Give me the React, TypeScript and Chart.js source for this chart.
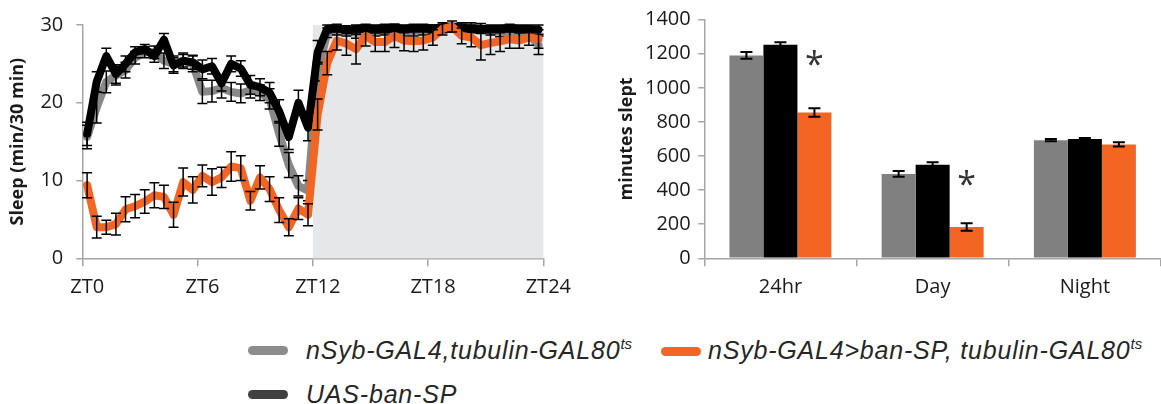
import React, { useEffect, useRef } from 'react';
import { Chart, registerables } from 'chart.js';
Chart.register(...registerables);

// ---------- Left chart data (sleep per 30-min bin, ZT0..ZT24) ----------
const ztTickLabels = ['ZT0', 'ZT6', 'ZT12', 'ZT18', 'ZT24'];
const nightStart = 12;
const nightEnd = 24;

const grayLine = [
  15.6, 19.4, 22.7, 23.5, 24.2, 25.8, 26.5, 26.5, 25.4, 25.0, 25.4, 25.0,
  21.4, 21.5, 21.9, 21.4, 21.2, 21.6, 21.3, 20.5, 16.0, 12.0, 9.3, 8.7,
  24.0, 29.0, 29.3, 29.2, 29.0, 29.1, 29.2, 29.3, 29.3, 29.2, 29.2, 29.3,
  29.4, 29.5, 29.6, 29.8, 29.8, 29.6, 29.3, 29.1, 29.0, 28.9, 28.8, 27.4,
];
const grayLineErr = [
  1.5, 2.0, 1.4, 1.2, 1.0, 0.8, 0.7, 0.8, 1.0, 1.0, 1.0, 1.0,
  1.5, 1.4, 1.3, 1.2, 1.2, 1.0, 1.0, 1.3, 1.6, 1.6, 1.3, 1.3,
  1.2, 0.6, 0.6, 0.6, 0.7, 0.6, 0.6, 0.6, 0.6, 0.6, 0.6, 0.6,
  0.6, 0.5, 0.5, 0.5, 0.5, 0.6, 0.6, 0.6, 0.7, 0.7, 0.8, 1.2,
];
const blackLine = [
  16.0, 22.7, 26.0, 23.7, 25.0, 26.5, 26.9, 26.0, 28.1, 24.8, 25.4, 25.2,
  24.3, 24.7, 22.5, 25.0, 24.4, 22.3, 22.0, 21.3, 18.9, 15.6, 20.0, 16.8,
  26.5, 29.5, 29.6, 29.4, 29.5, 29.6, 29.5, 29.6, 29.6, 29.5, 29.6, 29.6,
  29.5, 29.7, 29.8, 29.6, 29.5, 29.4, 29.5, 29.5, 29.6, 29.5, 29.5, 29.4,
];
const blackLineErr = [
  1.5, 1.3, 1.0, 1.2, 1.0, 0.7, 0.6, 0.8, 0.8, 1.0, 0.8, 0.9,
  1.2, 1.0, 1.0, 1.0, 1.0, 1.2, 1.1, 1.3, 1.5, 1.6, 1.6, 1.7,
  1.5, 0.5, 0.5, 0.5, 0.5, 0.5, 0.5, 0.5, 0.5, 0.5, 0.5, 0.5,
  0.5, 0.4, 0.4, 0.5, 0.5, 0.5, 0.5, 0.5, 0.5, 0.5, 0.5, 0.6,
];
const orangeLine = [
  9.4, 4.0, 4.0, 4.4, 6.3, 6.7, 7.3, 8.1, 7.9, 5.6, 9.8, 8.8,
  10.6, 9.8, 10.4, 11.8, 11.6, 7.4, 10.4, 8.9, 6.2, 4.0, 6.4, 5.6,
  18.5, 25.1, 28.0, 27.6, 26.9, 28.6, 27.8, 27.8, 28.6, 28.0, 27.9, 28.0,
  28.4, 29.5, 29.8, 28.6, 28.4, 27.4, 27.7, 27.9, 28.2, 28.0, 28.4, 28.2,
];
const orangeLineErr = [
  1.6, 1.4, 0.9, 1.4, 1.6, 1.5, 1.5, 1.6, 1.5, 1.6, 1.8, 1.7,
  1.4, 1.7, 1.3, 1.9, 1.6, 1.2, 1.5, 1.6, 1.6, 1.1, 1.4, 1.4,
  2.0, 1.5, 1.2, 1.5, 1.9, 1.3, 1.2, 1.2, 1.5, 1.3, 1.3, 1.2,
  1.0, 0.8, 0.7, 1.0, 1.2, 1.9, 1.5, 1.3, 1.2, 1.0, 1.0, 1.2,
];

// ---------- Right chart data (minutes slept) ----------
const barCategories = ['24hr', 'Day', 'Night'];
const grayBars = [1190, 495, 693];
const grayBarsErr = [20, 17, 6];
const blackBars = [1252, 549, 700];
const blackBarsErr = [15, 15, 5];
const orangeBars = [855, 184, 668];
const orangeBarsErr = [25, 22, 12];
const significant = [true, true, false];

const seriesNames = [
  'nSyb-GAL4,tubulin-GAL80',
  'UAS-ban-SP',
  'nSyb-GAL4>ban-SP, tubulin-GAL80',
];

const GRAY = '#888888';
const GRAY_BAR = '#808080';
const BLACK = '#000000';
const ORANGE = '#f26522';
const AXIS = '#a6a6a6';
const TEXT = '#1a1a1a';
const FONT = "'Open Sans', sans-serif";

const binX = (i: number) => 0.25 + 0.5 * i; // centre of each 30-min bin, in hours

const errorBarsPlugin = {
  id: 'errorBars',
  afterDatasetDraw(chart: any, args: any, opts: any) {
    const ds = chart.data.datasets[args.index];
    const errs: number[] | undefined = ds.errors;
    if (!errs) return;
    const meta = args.meta;
    const yScale = chart.scales[meta.yAxisID];
    const ctx = chart.ctx;
    ctx.save();
    ctx.strokeStyle = opts.color || '#000';
    ctx.lineWidth = opts.lineWidth || 1.5;
    const cap = opts.cap || 5;
    meta.data.forEach((el: any, i: number) => {
      const d = ds.data[i];
      const v = typeof d === 'number' ? d : d.y;
      const e = errs[i];
      const x = el.x;
      const yT = yScale.getPixelForValue(v + e);
      const yB = yScale.getPixelForValue(v - e);
      ctx.beginPath();
      ctx.moveTo(x, yT);
      ctx.lineTo(x, yB);
      ctx.moveTo(x - cap, yT);
      ctx.lineTo(x + cap, yT);
      ctx.moveTo(x - cap, yB);
      ctx.lineTo(x + cap, yB);
      ctx.stroke();
    });
    ctx.restore();
  },
};

const nightShadePlugin = {
  id: 'nightShade',
  beforeDatasetsDraw(chart: any) {
    const { ctx, chartArea, scales } = chart;
    const x0 = scales.x.getPixelForValue(nightStart);
    const x1 = scales.x.getPixelForValue(nightEnd);
    ctx.save();
    ctx.fillStyle = '#e6e7e8';
    ctx.fillRect(x0, chartArea.top, x1 - x0, chartArea.bottom - chartArea.top);
    ctx.restore();
  },
};

const asteriskPlugin = {
  id: 'asterisks',
  afterDatasetsDraw(chart: any) {
    const ctx = chart.ctx;
    const orangeMeta = chart.getDatasetMeta(2);
    const blackMeta = chart.getDatasetMeta(1);
    ctx.save();
    ctx.fillStyle = '#333333';
    ctx.font = `34px ${FONT}`;
    ctx.textAlign = 'center';
    ctx.textBaseline = 'alphabetic';
    significant.forEach((s, i) => {
      if (!s) return;
      const x = orangeMeta.data[i].x;
      const y = blackMeta.data[i].y + 31;
      ctx.fillText('*', x, y);
    });
    ctx.restore();
  },
};

function LeftChart() {
  const ref = useRef<HTMLCanvasElement>(null);
  useEffect(() => {
    if (!ref.current) return;
    const mk = (arr: number[]) => arr.map((y, i) => ({ x: binX(i), y }));
    const lineDs = (label: string, data: number[], errs: number[], color: string) => ({
      label,
      data: mk(data),
      errors: errs,
      borderColor: color,
      backgroundColor: color,
      borderWidth: 8,
      pointRadius: 0,
      tension: 0,
      borderJoinStyle: 'round',
      borderCapStyle: 'round',
      fill: false,
      clip: false,
    });
    const chart = new Chart(ref.current, {
      type: 'line',
      data: {
        datasets: [
          lineDs(seriesNames[2], orangeLine, orangeLineErr, ORANGE),
          lineDs(seriesNames[1], blackLine, blackLineErr, BLACK),
          lineDs(seriesNames[0], grayLine, grayLineErr, GRAY),
        ] as any,
      },
      options: {
        animation: false,
        responsive: true,
        maintainAspectRatio: false,
        devicePixelRatio: 1,
        layout: { padding: { top: 17.5, right: 28, bottom: 0, left: 0 } },
        plugins: {
          legend: { display: false },
          tooltip: { enabled: false },
          errorBars: { cap: 5, lineWidth: 1.5, color: '#000' },
        } as any,
        scales: {
          x: {
            type: 'linear',
            min: 0,
            max: 24,
            afterBuildTicks: (scale: any) => {
              scale.ticks = ztTickLabels.map((_, i) => ({ value: i * 6 }));
            },
            afterFit: (scale: any) => {
              scale.height = 51.7;
            },
            ticks: {
              callback: (_v: any, i: number) => ztTickLabels[i],
              font: { family: FONT, size: 20 },
              color: TEXT,
              padding: 9,
              labelOffset: 5,
              maxRotation: 0,
              autoSkip: false,
            },
            grid: { drawOnChartArea: false, color: AXIS, lineWidth: 1.5, tickLength: 8 },
            border: { color: AXIS, width: 1.5 },
          },
          y: {
            min: 0,
            max: 30,
            afterFit: (scale: any) => {
              scale.width = 82.3;
            },
            ticks: {
              stepSize: 10,
              font: { family: FONT, size: 20 },
              color: TEXT,
              padding: 13,
            },
            grid: { drawOnChartArea: false, color: AXIS, lineWidth: 1.5, tickLength: 6 },
            border: { color: AXIS, width: 1.5 },
            title: {
              display: true,
              text: 'Sleep (min/30 min)',
              font: { family: FONT, size: 18, weight: 'bold' },
              color: TEXT,
              padding: { top: 7, bottom: 0 },
            },
          },
        },
      } as any,
      plugins: [nightShadePlugin, errorBarsPlugin],
    });
    return () => chart.destroy();
  }, []);
  return <canvas ref={ref} />;
}

function RightChart() {
  const ref = useRef<HTMLCanvasElement>(null);
  useEffect(() => {
    if (!ref.current) return;
    const barDs = (label: string, data: number[], errs: number[], color: string) => ({
      label,
      data,
      errors: errs,
      backgroundColor: color,
      borderWidth: 0,
      categoryPercentage: 0.67,
      barPercentage: 1.0,
    });
    const chart = new Chart(ref.current, {
      type: 'bar',
      data: {
        labels: barCategories,
        datasets: [
          barDs(seriesNames[0], grayBars, grayBarsErr, GRAY_BAR),
          barDs(seriesNames[1], blackBars, blackBarsErr, BLACK),
          barDs(seriesNames[2], orangeBars, orangeBarsErr, ORANGE),
        ] as any,
      },
      options: {
        animation: false,
        responsive: true,
        maintainAspectRatio: false,
        devicePixelRatio: 1,
        layout: { padding: { top: 17.3, right: 0, bottom: 0, left: 0 } },
        plugins: {
          legend: { display: false },
          tooltip: { enabled: false },
          errorBars: { cap: 6, lineWidth: 2, color: '#000' },
        } as any,
        scales: {
          x: {
            afterFit: (scale: any) => {
              scale.height = 51.7;
            },
            ticks: {
              font: { family: FONT, size: 20 },
              color: TEXT,
              padding: 9,
              maxRotation: 0,
            },
            grid: { drawOnChartArea: false, color: AXIS, lineWidth: 1.5, tickLength: 8, offset: true },
            border: { color: AXIS, width: 1.5 },
          },
          y: {
            min: 0,
            max: 1400,
            afterFit: (scale: any) => {
              scale.width = 114.3;
            },
            ticks: {
              stepSize: 200,
              callback: (v: any) => String(v),
              font: { family: FONT, size: 20 },
              color: TEXT,
              padding: 7.6,
            },
            grid: { drawOnChartArea: false, color: AXIS, lineWidth: 1.5, tickLength: 6 },
            border: { color: AXIS, width: 1.5 },
            title: {
              display: true,
              text: 'minutes slept',
              font: { family: FONT, size: 18, weight: 'bold' },
              color: TEXT,
              padding: { top: 26, bottom: 0 },
            },
          },
        },
      } as any,
      plugins: [errorBarsPlugin, asteriskPlugin],
    });
    return () => chart.destroy();
  }, []);
  return <canvas ref={ref} />;
}

const legendText: React.CSSProperties = {
  position: 'absolute',
  fontFamily: "'Liberation Sans', Arial, sans-serif",
  fontStyle: 'italic',
  fontSize: 25,
  lineHeight: '30px',
  letterSpacing: 0.8,
  color: '#262626',
  whiteSpace: 'nowrap',
};
const sup: React.CSSProperties = { fontSize: 15, position: 'relative', top: -10, letterSpacing: 0 };
const swatch = (left: number, cy: number, color: string): React.CSSProperties => ({
  position: 'absolute',
  left,
  top: cy - 4.5,
  width: 40,
  height: 9,
  borderRadius: 4.5,
  background: color,
});

export default function App() {
  return (
    <div
      style={{
        position: 'fixed',
        left: 0,
        top: 0,
        width: 1161,
        height: 404,
        background: '#fff',
        overflow: 'hidden',
      }}
    >
      <div style={{ position: 'absolute', left: 0, top: 0, width: 575, height: 310 }}>
        <LeftChart />
      </div>
      <div style={{ position: 'absolute', left: 590, top: 0, width: 571, height: 310 }}>
        <RightChart />
      </div>
      <div style={swatch(248, 350, '#8c8c8c')} />
      <div style={{ ...legendText, left: 306, top: 335 }}>
        {seriesNames[0]}
        <span style={sup}>ts</span>
      </div>
      <div style={swatch(661, 351, ORANGE)} />
      <div style={{ ...legendText, left: 708, top: 335 }}>
        {seriesNames[2]}
        <span style={sup}>ts</span>
      </div>
      <div style={swatch(248, 394, '#404040')} />
      <div style={{ ...legendText, left: 306, top: 379 }}>{seriesNames[1]}</div>
    </div>
  );
}
